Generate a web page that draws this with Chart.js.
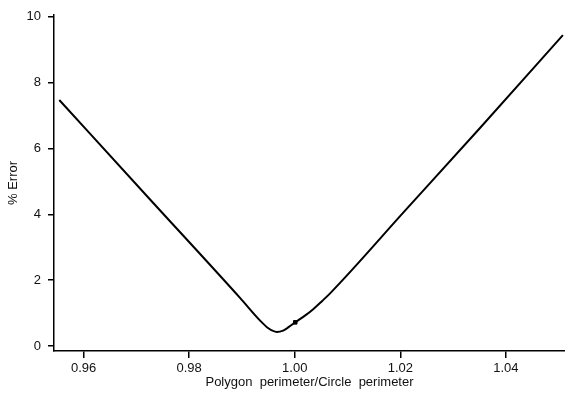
<!DOCTYPE html>
<html>
<head>
<meta charset="utf-8">
<script src="https://cdn.jsdelivr.net/npm/chart.js@4/dist/chart.umd.min.js"></script>
<style>
html,body{margin:0;padding:0;background:#fff;}
#wrap{width:565px;height:396px;position:relative;}
</style>
</head>
<body>
<div id="wrap"><canvas id="c" width="565" height="396"></canvas></div>
<script>
// Data
const errX = [0.9554, 0.9726, 0.9896, 0.9934, 0.9950, 0.9966, 0.9978, 0.9989, 1.0001, 1.0020, 1.0035, 1.0052, 1.0067, 1.0209, 1.0351, 1.0508];
const errY = [7.47, 4.45, 1.47, 0.78, 0.54, 0.43, 0.47, 0.58, 0.72, 0.93, 1.12, 1.37, 1.60, 4.11, 6.62, 9.44];
const markerX = [1.0001];
const markerY = [0.72];
const xTicks = [0.96, 0.98, 1.00, 1.02, 1.04];
const yTicks = [0, 2, 4, 6, 8, 10];
const xTitle = 'Polygon  perimeter/Circle  perimeter';
const yTitle = '% Error';

const FONT = "'Liberation Sans', Arial, sans-serif";
const curve = errX.map((x, i) => ({x: x, y: errY[i]}));
const marks = markerX.map((x, i) => ({x: x, y: markerY[i]}));

new Chart(document.getElementById('c'), {
  type: 'scatter',
  data: {
    datasets: [
      {data: curve, showLine: true, borderColor: '#000', borderWidth: 2, pointRadius: 0,
       cubicInterpolationMode: 'monotone', fill: false},
      {data: marks, showLine: false, pointStyle: 'rect', pointRadius: 2.5,
       backgroundColor: '#000', borderColor: '#000', borderWidth: 1}
    ]
  },
  options: {
    responsive: false,
    animation: false,
    devicePixelRatio: 1,
    layout: {autoPadding: false, padding: {top: 15, right: 0, left: 6, bottom: 6}},
    plugins: {legend: {display: false}, tooltip: {enabled: false}},
    scales: {
      x: {
        type: 'linear', min: 0.9544, max: 1.0512,
        afterBuildTicks: s => { s.ticks = xTicks.map(v => ({value: v})); },
        afterFit: s => { s.height = 396 - 351 - 6; s.paddingRight = 0; s.paddingLeft = 0; },
        grid: {drawOnChartArea: false, drawTicks: true, tickLength: 7, color: '#000', lineWidth: 1.5},
        border: {display: true, color: '#000', width: 1.5},
        ticks: {color: '#111', font: {family: FONT, size: 13}, padding: 3,
                callback: v => v.toFixed(2)},
        title: {display: true, text: xTitle, color: '#111', font: {family: FONT, size: 13}, padding: {top: 1, bottom: 0}}
      },
      y: {
        type: 'linear', min: -0.15, max: 10.05,
        afterBuildTicks: s => { s.ticks = yTicks.map(v => ({value: v})); },
        afterFit: s => { s.width = 54 - 6; s.paddingTop = 0; s.paddingBottom = 0; },
        grid: {drawOnChartArea: false, drawTicks: true, tickLength: 6, color: '#000', lineWidth: 1.5},
        border: {display: true, color: '#000', width: 1.5},
        ticks: {color: '#111', font: {family: FONT, size: 13}, padding: 7,
                callback: v => String(v)},
        title: {display: true, text: yTitle, color: '#111', font: {family: FONT, size: 13}, padding: {top: 0, bottom: 12}}
      }
    }
  }
});
</script>
</body>
</html>
